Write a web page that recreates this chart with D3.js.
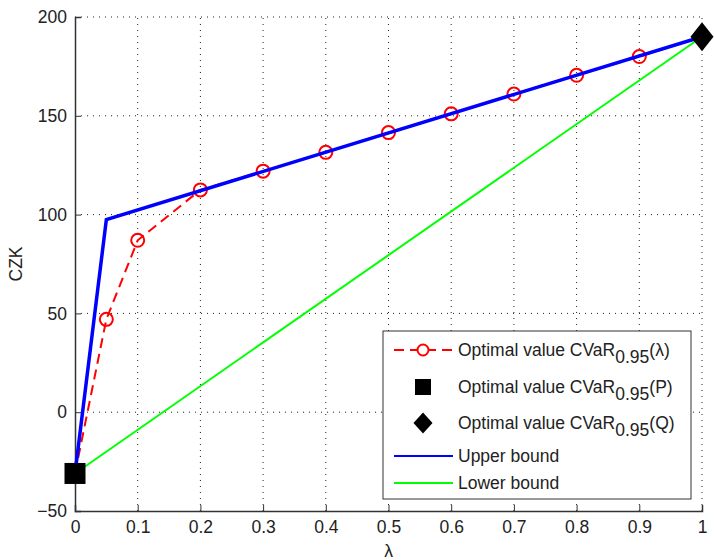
<!DOCTYPE html>
<html>
<head>
<meta charset="utf-8">
<script src="https://cdn.jsdelivr.net/npm/d3@7"></script>
<style>
body { margin: 0; background: #fff; }
text { font-family: "Liberation Sans", Arial, sans-serif; fill: #222; }
</style>
</head>
<body>
<div id="chart"></div>
<script>
// data
var lambdas = [0, 0.05, 0.1, 0.2, 0.3, 0.4, 0.5, 0.6, 0.7, 0.8, 0.9, 1];
var optValues = [-31, 47, 87, 112.5, 122, 131.5, 141.5, 151, 161, 170.5, 180, 190];
var pointP = [0, -31];
var pointQ = [1, 190];
var upperX = [0, 0.05, 1];
var upperY = [-31, 97.5, 190];
var lowerX = [0, 1];
var lowerY = [-31, 190];
var xTicks = [0, 0.1, 0.2, 0.3, 0.4, 0.5, 0.6, 0.7, 0.8, 0.9, 1];
var yTicks = [-50, 0, 50, 100, 150, 200];

var w = 714, h = 560;
var margin = {left: 75, right: 12, top: 17, bottom: 49};
var fs = 17.5;

var svg = d3.select('#chart').append('svg')
    .attr('width', w)
    .attr('height', h);

var x = d3.scaleLinear().domain([0, 1]).range([margin.left, w - margin.right]);
var y = d3.scaleLinear().domain([-50, 200]).range([h - margin.bottom, margin.top]);

// dotted grid
var grid = svg.append('g').attr('id', 'grid');
grid.selectAll('.vgrid')
    .data(xTicks.slice(1))
    .enter().append('line')
    .attr('x1', d => x(d)).attr('x2', d => x(d))
    .attr('y1', y(-50)).attr('y2', y(200))
    .attr('stroke', '#222').attr('stroke-width', 1)
    .attr('stroke-dasharray', '1,5');
grid.selectAll('.hgrid')
    .data(yTicks.slice(1))
    .enter().append('line')
    .attr('x1', x(0)).attr('x2', x(1))
    .attr('y1', d => y(d)).attr('y2', d => y(d))
    .attr('stroke', '#222').attr('stroke-width', 1)
    .attr('stroke-dasharray', '1,5');

// axes, ticks inside
var xAxis = d3.axisBottom(x).tickValues(xTicks).tickSize(-6).tickPadding(10)
    .tickFormat(d => d === 0 || d === 1 ? d3.format('d')(d) : d3.format('.1f')(d));
var yAxis = d3.axisLeft(y).tickValues(yTicks).tickSize(-6).tickPadding(8);

var gx = svg.append('g')
    .attr('transform', `translate(0, ${y(-50)})`)
    .call(xAxis);
var gy = svg.append('g')
    .attr('transform', `translate(${x(0)}, 0)`)
    .call(yAxis);
[gx, gy].forEach(g => {
    g.select('.domain').attr('stroke', '#333').attr('stroke-width', 1.5);
    g.selectAll('.tick line').attr('stroke', '#333');
    g.selectAll('.tick text').attr('font-size', fs).style('fill', '#222');
});

svg.append('text')
    .attr('transform', `translate(22, ${y(75)}) rotate(-90)`)
    .attr('text-anchor', 'middle')
    .attr('font-size', fs)
    .text('CZK');
svg.append('text')
    .attr('x', x(0.5)).attr('y', 557)
    .attr('text-anchor', 'middle')
    .attr('font-size', fs)
    .text('λ');

var line = d3.line().x(d => x(d[0])).y(d => y(d[1]));

// optimal value curve (drawn first, the bounds go over it)
var opt = lambdas.map((v, i) => [v, optValues[i]]);
svg.append('path')
    .datum(opt)
    .attr('d', line)
    .attr('fill', 'none').attr('stroke', '#ff0000').attr('stroke-width', 2)
    .attr('stroke-dasharray', '10,6');
svg.selectAll('.opt')
    .data(opt)
    .enter().append('circle')
    .attr('class', 'opt')
    .attr('cx', d => x(d[0])).attr('cy', d => y(d[1]))
    .attr('r', 6.5)
    .attr('fill', 'none').attr('stroke', '#ff0000').attr('stroke-width', 2);

// lower bound
svg.append('path')
    .datum(lowerX.map((v, i) => [v, lowerY[i]]))
    .attr('d', line)
    .attr('fill', 'none').attr('stroke', '#00ff00').attr('stroke-width', 2);

// upper bound
svg.append('path')
    .datum(upperX.map((v, i) => [v, upperY[i]]))
    .attr('d', line)
    .attr('fill', 'none').attr('stroke', '#0000ff').attr('stroke-width', 3.5);

// P and Q markers
function diamondPath(wd, ht) {
    return `M0,${-ht / 2}L${wd / 2},0L0,${ht / 2}L${-wd / 2},0Z`;
}
svg.append('rect')
    .attr('x', x(pointP[0]) - 10.5).attr('y', y(pointP[1]) - 10.5)
    .attr('width', 21).attr('height', 21)
    .attr('fill', '#000');
svg.append('path')
    .attr('d', diamondPath(23, 29))
    .attr('transform', `translate(${x(pointQ[0])}, ${y(pointQ[1])})`)
    .attr('fill', '#000');

// legend
var legend = svg.append('g').attr('transform', 'translate(383, 331)');
legend.append('rect')
    .attr('width', 308).attr('height', 168)
    .attr('fill', '#fff').attr('stroke', '#333').attr('stroke-width', 1);

var items = [
    {label: 'Optimal value CVaR', sub: '0.95', tail: '(λ)', kind: 'opt', yy: 19},
    {label: 'Optimal value CVaR', sub: '0.95', tail: '(P)', kind: 'square', yy: 56},
    {label: 'Optimal value CVaR', sub: '0.95', tail: '(Q)', kind: 'diamond', yy: 92},
    {label: 'Upper bound', kind: 'upper', yy: 125},
    {label: 'Lower bound', kind: 'lower', yy: 152}
];
items.forEach(it => {
    var g = legend.append('g').attr('transform', `translate(0, ${it.yy})`);
    if (it.kind === 'opt') {
        g.append('line').attr('x1', 11).attr('x2', 70)
            .attr('stroke', '#ff0000').attr('stroke-width', 2).attr('stroke-dasharray', '10,6');
        g.append('circle').attr('cx', 40).attr('r', 5.5)
            .attr('fill', '#fff').attr('stroke', '#ff0000').attr('stroke-width', 2);
    } else if (it.kind === 'square') {
        g.append('rect').attr('x', 32).attr('y', -8).attr('width', 16).attr('height', 16)
            .attr('fill', '#000');
    } else if (it.kind === 'diamond') {
        g.append('path').attr('d', diamondPath(19, 21))
            .attr('transform', 'translate(40, 0)').attr('fill', '#000');
    } else {
        g.append('line').attr('x1', 11).attr('x2', 70)
            .attr('stroke', it.kind === 'upper' ? '#0000ff' : '#00ff00').attr('stroke-width', 2);
    }
    var t = g.append('text').attr('x', 75).attr('y', 6).attr('font-size', fs);
    t.append('tspan').text(it.label);
    if (it.sub) {
        t.append('tspan').attr('dy', 7).text(it.sub);
        t.append('tspan').attr('dy', -7).text(it.tail);
    }
});
</script>
</body>
</html>
